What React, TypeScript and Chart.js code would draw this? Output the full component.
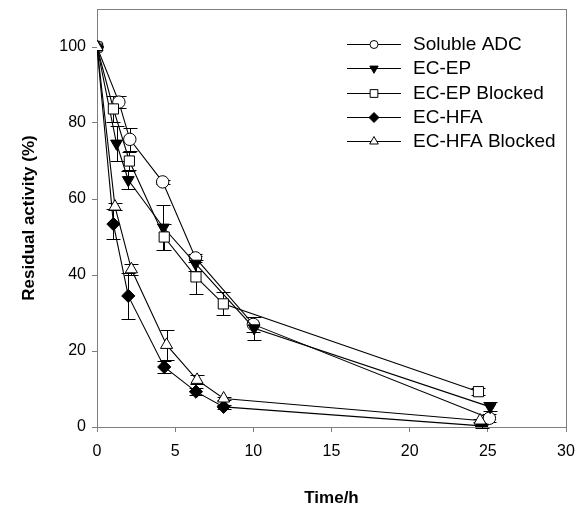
import React, { useEffect, useRef } from 'react';
import { Chart, registerables } from 'chart.js';

Chart.register(...registerables);

const seriesLabels = ['Soluble ADC', 'EC-EP', 'EC-EP Blocked', 'EC-HFA', 'EC-HFA Blocked'];

const adcTime = [0, 1.4, 2.1, 4.2, 6.3, 10, 25.1];
const adcActivity = [100, 85.5, 75.7, 64.5, 44.5, 27, 2.3];
const adcError = [0, 1.5, 3, 0.5, 1, 2, 1];

const epTime = [0, 1.25, 2.0, 4.25, 6.3, 10.05, 25.15];
const epActivity = [100, 74.6, 65, 52.5, 43, 26, 5.3];
const epError = [0, 4.7, 2.5, 6, 2, 3, 1.2];

const epBlockedTime = [0, 1.05, 2.07, 4.3, 6.33, 8.08, 24.4];
const epBlockedActivity = [100, 83.7, 70, 50, 39.5, 32.4, 9.3];
const epBlockedError = [0, 3.5, 2.3, 3.5, 4.5, 3, 1];

const hfaTime = [0, 1.05, 2.0, 4.3, 6.33, 8.1, 24.6];
const hfaActivity = [100, 53.4, 34.5, 15.8, 9.3, 5.3, 0.3];
const hfaError = [0, 4, 6, 1.5, 1, 0.5, 0.5];

const hfaBlockedTime = [0, 1.15, 2.2, 4.45, 6.4, 8.1, 24.5];
const hfaBlockedActivity = [100, 58, 41.5, 21.6, 12.4, 7.5, 1.7];
const hfaBlockedError = [0, 1, 1.5, 4, 1.2, 0.5, 0.5];

const xTickValues = [0, 5, 10, 15, 20, 25, 30];
const yTickValues = [0, 20, 40, 60, 80, 100];

const seriesTimes = [adcTime, epTime, epBlockedTime, hfaTime, hfaBlockedTime];
const seriesValues = [adcActivity, epActivity, epBlockedActivity, hfaActivity, hfaBlockedActivity];
const seriesErrors = [adcError, epError, epBlockedError, hfaError, hfaBlockedError];

type MarkerSpec = { style: string; rotation: number; fill: string; radius: number; legendRadius: number };
const markers: MarkerSpec[] = [
  { style: 'circle', rotation: 0, fill: '#ffffff', radius: 6.2, legendRadius: 4 },
  { style: 'triangle', rotation: 180, fill: '#000000', radius: 6.8, legendRadius: 4.8 },
  { style: 'rect', rotation: 0, fill: '#ffffff', radius: 7.2, legendRadius: 5.5 },
  { style: 'rectRot', rotation: 0, fill: '#000000', radius: 6.6, legendRadius: 5 },
  { style: 'triangle', rotation: 0, fill: '#ffffff', radius: 7, legendRadius: 5 },
];

const AXIS_GRAY = '#7f7f7f';
const FONT = "'Liberation Sans', Arial, Helvetica, sans-serif";

function drawMarker(ctx: CanvasRenderingContext2D, m: MarkerSpec, x: number, y: number, r: number) {
  ctx.beginPath();
  if (m.style === 'circle') {
    ctx.arc(x, y, r, 0, Math.PI * 2);
  } else if (m.style === 'rect') {
    const s = r * Math.SQRT1_2;
    ctx.rect(x - s, y - s, 2 * s, 2 * s);
  } else if (m.style === 'rectRot') {
    ctx.moveTo(x, y - r);
    ctx.lineTo(x + r, y);
    ctx.lineTo(x, y + r);
    ctx.lineTo(x - r, y);
    ctx.closePath();
  } else {
    let rad = (m.rotation * Math.PI) / 180;
    ctx.moveTo(x + Math.sin(rad) * r, y - Math.cos(rad) * r);
    rad += (2 * Math.PI) / 3;
    ctx.lineTo(x + Math.sin(rad) * r, y - Math.cos(rad) * r);
    rad += (2 * Math.PI) / 3;
    ctx.lineTo(x + Math.sin(rad) * r, y - Math.cos(rad) * r);
    ctx.closePath();
  }
  ctx.fillStyle = m.fill;
  ctx.fill();
  ctx.lineWidth = 1;
  ctx.strokeStyle = '#000';
  ctx.stroke();
}

const framePlugin = {
  id: 'frame',
  beforeDatasetsDraw(chart: any) {
    const { ctx, chartArea } = chart;
    ctx.save();
    ctx.strokeStyle = AXIS_GRAY;
    ctx.lineWidth = 1;
    ctx.strokeRect(
      Math.round(chartArea.left) + 0.5,
      Math.round(chartArea.top) + 0.5,
      Math.round(chartArea.right - chartArea.left),
      Math.round(chartArea.bottom - chartArea.top)
    );
    ctx.restore();
  },
};

const errorBarPlugin = {
  id: 'errorBars',
  beforeDatasetsDraw(chart: any) {
    const { ctx } = chart;
    const xs = chart.scales.x;
    const ys = chart.scales.y;
    ctx.save();
    ctx.strokeStyle = '#000';
    ctx.lineWidth = 1;
    seriesErrors.forEach((errs, i) => {
      errs.forEach((e, j) => {
        if (!e) return;
        const px = Math.round(xs.getPixelForValue(seriesTimes[i][j])) + 0.5;
        const top = Math.round(ys.getPixelForValue(seriesValues[i][j] + e)) + 0.5;
        const bot = Math.round(ys.getPixelForValue(seriesValues[i][j] - e)) + 0.5;
        ctx.beginPath();
        ctx.moveTo(px, top);
        ctx.lineTo(px, bot);
        ctx.moveTo(px - 7, top);
        ctx.lineTo(px + 7, top);
        ctx.moveTo(px - 7, bot);
        ctx.lineTo(px + 7, bot);
        ctx.stroke();
      });
    });
    ctx.restore();
  },
};

const legendPlugin = {
  id: 'customLegend',
  afterDraw(chart: any) {
    const { ctx, chartArea } = chart;
    const lineStart = chartArea.right - 219;
    const lineEnd = chartArea.right - 165;
    const markerX = (lineStart + lineEnd) / 2;
    const textX = chartArea.right - 153;
    ctx.save();
    ctx.font = `19px ${FONT}`;
    ctx.textBaseline = 'middle';
    ctx.textAlign = 'left';
    seriesLabels.forEach((label, i) => {
      const y = Math.round(chartArea.top + 35 + i * 24.3) + 0.5;
      ctx.beginPath();
      ctx.moveTo(lineStart, y);
      ctx.lineTo(lineEnd, y);
      ctx.strokeStyle = '#000';
      ctx.lineWidth = 1;
      ctx.stroke();
      drawMarker(ctx, markers[i], markerX, y, markers[i].legendRadius);
      ctx.fillStyle = '#000';
      ctx.fillText(label, textX, y);
    });
    ctx.restore();
  },
};

export default function App() {
  const canvasRef = useRef<HTMLCanvasElement | null>(null);

  useEffect(() => {
    document.body.style.margin = '0';
    const canvas = canvasRef.current;
    if (!canvas) return;
    Chart.defaults.font.family = FONT;
    Chart.defaults.color = '#000';

    const datasets = seriesLabels.map((label, i) => ({
      label,
      data: seriesTimes[i].map((t, j) => ({ x: t, y: seriesValues[i][j] })),
      borderColor: '#000',
      borderWidth: 1.1,
      backgroundColor: markers[i].fill,
      pointBackgroundColor: markers[i].fill,
      pointBorderColor: '#000',
      pointBorderWidth: 1,
      pointStyle: markers[i].style as any,
      pointRotation: markers[i].rotation,
      pointRadius: markers[i].radius,
      pointHoverRadius: markers[i].radius,
      tension: 0,
      fill: false,
      order: seriesLabels.length - i,
    }));

    const chart = new Chart(canvas, {
      type: 'line',
      data: { datasets },
      options: {
        responsive: false,
        animation: false,
        devicePixelRatio: 1,
        layout: { padding: { top: 9, right: 12, left: 0, bottom: 0 } },
        plugins: {
          legend: { display: false },
          tooltip: { enabled: false },
        },
        scales: {
          x: {
            type: 'linear',
            min: 0,
            max: 30,
            afterBuildTicks: (scale: any) => {
              scale.ticks = xTickValues.map((v) => ({ value: v }));
            },
            afterFit: (scale: any) => {
              scale.height = 80;
              scale.paddingLeft = 0;
              scale.paddingRight = 0;
              scale.paddingTop = 0;
              scale.paddingBottom = 0;
            },
            ticks: { font: { size: 16 }, padding: 10, color: '#000', maxRotation: 0 },
            grid: { drawOnChartArea: false, drawTicks: true, tickLength: 5, color: AXIS_GRAY },
            border: { display: true, color: AXIS_GRAY },
            title: {
              display: true,
              text: 'Time/h',
              font: { size: 17, weight: 'bold', lineHeight: 1 },
              padding: { top: 0, bottom: 0 },
              color: '#000',
            },
          },
          y: {
            type: 'linear',
            min: 0,
            max: 110,
            afterBuildTicks: (scale: any) => {
              scale.ticks = yTickValues.map((v) => ({ value: v }));
            },
            afterFit: (scale: any) => {
              scale.width = 97;
              scale.paddingLeft = 0;
              scale.paddingRight = 0;
              scale.paddingTop = 0;
              scale.paddingBottom = 0;
            },
            ticks: { font: { size: 16 }, padding: 6, color: '#000' },
            grid: { drawOnChartArea: false, drawTicks: true, tickLength: 5, color: AXIS_GRAY },
            border: { display: true, color: AXIS_GRAY },
            title: {
              display: true,
              text: 'Residual activity (%)',
              font: { size: 17, weight: 'bold', lineHeight: 1 },
              padding: { top: 21, bottom: 0 },
              color: '#000',
            },
          },
        },
      },
      plugins: [framePlugin, errorBarPlugin, legendPlugin],
    });

    return () => {
      chart.destroy();
    };
  }, []);

  return (
    <div style={{ width: 578, height: 507 }}>
      <canvas ref={canvasRef} width={578} height={507} style={{ display: 'block' }} />
    </div>
  );
}
